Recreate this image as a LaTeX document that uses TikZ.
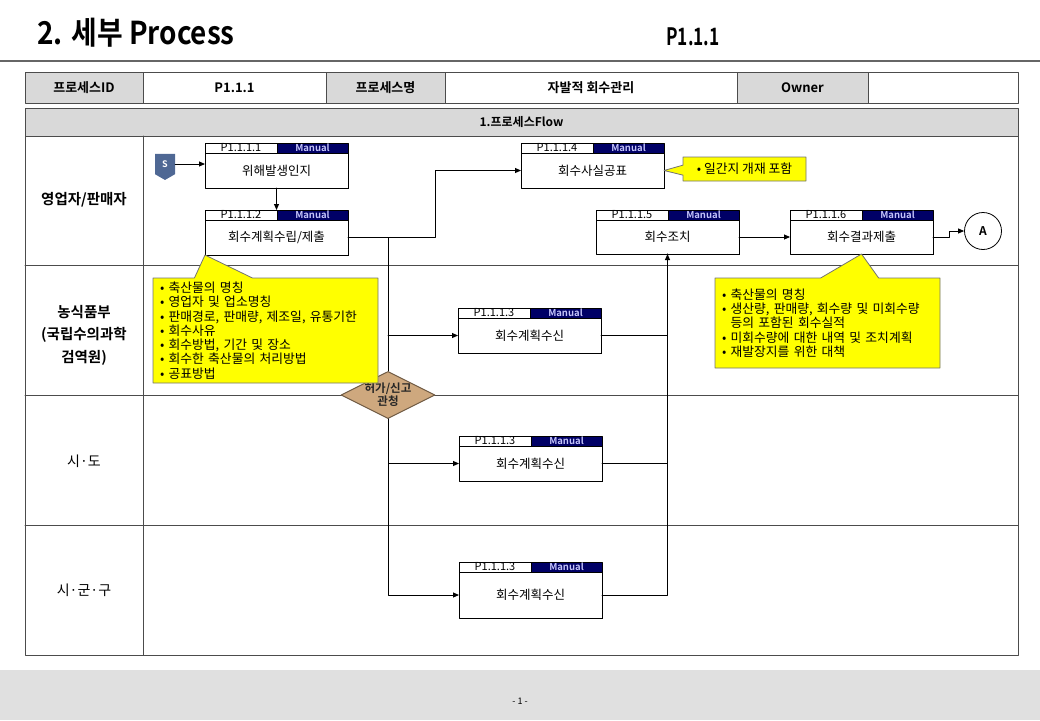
\documentclass[tikz,border=0pt]{standalone}
\usepackage{fontspec}
\setmainfont{Noto Sans CJK KR}[BoldFont={Noto Sans CJK KR Bold}]
\usetikzlibrary{arrows.meta,shapes.geometric,shapes.callouts,shapes.symbols,shadows,calc}
\definecolor{hdrgray}{RGB}{217,217,217}
\definecolor{mannavy}{RGB}{0,0,102}
\definecolor{manlav}{RGB}{196,196,250}
\definecolor{noteyel}{RGB}{255,255,0}
\definecolor{dectan}{RGB}{206,168,126}
\definecolor{startblue}{RGB}{79,104,148}
\definecolor{footgray}{RGB}{224,224,224}

% box with id strip, Manual strip and body: [body height]{name}{left}{top}{id}{text}
\newcommand{\procbox}[6][35]{%
  \node[idstrip,anchor=north west] (#2id) at (#3,#4) {#5};
  \node[manstrip,anchor=north west] (#2m) at (#2id.north east) {Manual};
  \node[procbody,minimum height=#1pt,anchor=north west] (#2) at (#2id.south west) {#6};}

\begin{document}
\begin{tikzpicture}[x=1pt,y=-1pt,line cap=round,line join=round,
  graycell/.style={draw=black!70,fill=hdrgray,line width=1pt,minimum height=31pt,inner sep=0pt,outer sep=0pt,anchor=north west,font=\fontsize{13}{13}\selectfont\bfseries},
  whitecell/.style={graycell,fill=white},
  lanelabel/.style={align=center,font=\fontsize{14}{22}\selectfont},
  idstrip/.style={draw=black,fill=white,line width=0.8pt,minimum width=72pt,minimum height=10pt,inner sep=0pt,outer sep=0pt,font=\fontsize{11}{10}\selectfont},
  manstrip/.style={idstrip,fill=mannavy,minimum width=71pt,text=manlav,font=\fontsize{9.5}{9}\selectfont\bfseries},
  procbody/.style={draw=black,fill=white,line width=0.8pt,minimum width=143pt,inner sep=0pt,outer sep=0pt,font=\fontsize{12.5}{12.5}\selectfont,drop shadow={shadow xshift=0.6pt,shadow yshift=-1.2pt,opacity=1,fill=black}},
  note/.style={rectangle callout,draw=black!55,fill=noteyel,line width=0.8pt,inner sep=0pt,font=\fontsize{12.8}{14.3}\selectfont},
  decision/.style={diamond,aspect=2,draw=black!45!dectan,fill=dectan,line width=1pt,minimum width=94pt,minimum height=46pt,inner sep=0pt,align=center,font=\fontsize{11.5}{13}\selectfont\bfseries,text=black!85},
  startmark/.style={signal,signal to=south,signal pointer angle=120,fill=startblue,text=white,minimum width=20pt,minimum height=22pt,inner sep=0pt,font=\fontsize{9}{9}\selectfont\bfseries},
  conn/.style={circle,draw=black,line width=0.8pt,minimum size=37pt,inner sep=0pt,font=\fontsize{12}{12}\selectfont\bfseries},
  arr/.style={-{Triangle[length=6pt,width=5pt]},line width=0.9pt},
  flowline/.style={line width=0.9pt}]
\useasboundingbox (0,0) rectangle (1040,720);
% title
\node[anchor=west,font=\fontsize{30}{30}\selectfont\bfseries] (title) at (34,33) {\scalebox{0.93}[1.05]{2. 세부 Process}};
\node[font=\fontsize{24}{24}\selectfont\bfseries] (pageid) at (693,37) {\scalebox{0.72}[1]{P1.1.1}};
\draw[black!60,line width=1.2pt] (0,61) -- (1040,61);
% header row
\node[graycell,minimum width=118pt] (pid) at (25,72) {프로세스ID};
\node[whitecell,minimum width=183pt] (pidv) at (pid.north east) {P1.1.1};
\node[graycell,minimum width=119pt] (pname) at (pidv.north east) {프로세스명};
\node[whitecell,minimum width=292pt] (pnamev) at (pname.north east) {자발적 회수관리};
\node[graycell,minimum width=131pt] (owner) at (pnamev.north east) {Owner};
\node[whitecell,minimum width=150pt] (ownerv) at (owner.north east) {};
% flow frame and lanes
\node[graycell,minimum width=993pt,minimum height=28pt,font=\fontsize{12}{12}\selectfont\bfseries] (flowhd) at (25,108) {1.프로세스Flow};
\draw[black!70,line width=1pt] (25,136) rectangle (1018,655);
\draw[black!70,line width=1pt] (143,136) -- (143,655);
\foreach \y in {265,395,525}
  \draw[black!70,line width=1pt] (25,\y) -- (1018,\y);
\node[lanelabel,font=\fontsize{14.5}{22.5}\selectfont\bfseries] (lane1) at (84,200) {영업자/판매자};
\node[lanelabel,font=\fontsize{14.5}{22.5}\selectfont\bfseries] (lane2) at (84,335) {농식품부\\(국립수의과학\\검역원)};
\node[lanelabel] (lane3) at (84,461) {시·도};
\node[lanelabel] (lane4) at (84,590) {시·군·구};
% process boxes
\procbox{b1}{205}{143}{P1.1.1.1}{위해발생인지}
\procbox{b2}{205}{210}{P1.1.1.2}{회수계획수립/제출}
\procbox{b4}{521}{143}{P1.1.1.4}{회수사실공표}
\procbox[34]{b5}{596}{210}{P1.1.1.5}{회수조치}
\procbox[34]{b6}{790}{210}{P1.1.1.6}{회수결과제출}
\procbox{b3a}{458}{308}{P1.1.1.3}{회수계획수신}
\procbox{b3b}{459}{436}{P1.1.1.3}{회수계획수신}
\procbox[46]{b3c}{459}{562}{P1.1.1.3}{회수계획수신}
\node[startmark] (S) at (165,164) {S};
\node[conn] (A) at (983,231) {A};
\node[decision] (dia) at (388,395) {허가/신고\\관청};
% connectors
\coordinate (trunk) at (388,0);
\coordinate (bend) at (435,0);
\draw[arr] (S.east) -- (S.east -| b1.west);
\draw[arr] (b1.south) -- (b1.south |- b2id.north);
\draw[arr] (b2.east) -- (b2.east -| bend) |- (b4.west);
\draw[flowline] (b2.east -| trunk) -- (dia.north);
\draw[arr] (b3a.west -| trunk) -- (b3a.west);
\draw[arr] (dia.south) |- (b3b.west);
\draw[arr] (dia.south) |- (b3c.west);
\draw[flowline] (b3a.east) -| (b5.south);
\draw[flowline] (b3b.east) -| (b5.south);
\draw[arr] (b3c.east) -| (b5.south);
\draw[arr] (b5.east) -- (b6.west);
\draw[arr] (b6.east) -- ++(16,0) |- (A.west);
% notes
\node[note,minimum width=123pt,minimum height=24pt,callout pointer width=10pt,callout absolute pointer={(b4.east)}] (note1) at (744.5,169) {• 일간지 개재 포함};
\node[note,text width=211pt,inner xsep=7pt,minimum height=105pt,align=left,callout pointer width=58pt,callout absolute pointer={(b2.south west)}] (note2) at (265.5,330.5) {• 축산물의 명칭\\• 영업자 및 업소명칭\\• 판매경로, 판매량, 제조일, 유통기한\\• 회수사유\\• 회수방법, 기간 및 장소\\• 회수한 축산물의 처리방법\\• 공표방법};
\node[note,text width=211pt,inner xsep=7pt,minimum height=90pt,align=left,callout pointer width=58pt,callout absolute pointer={(b6.south)}] (note3) at (827.5,323) {• 축산물의 명칭\\• 생산량, 판매량, 회수량 및 미회수량\\\phantom{• }등의 포함된 회수실적\\• 미회수량에 대한 내역 및 조치계획\\• 재발장지를 위한 대책};
% footer
\fill[footgray] (0,670) rectangle (1040,720);
\node[font=\fontsize{9}{9}\selectfont] (pageno) at (520,701) {- 1 -};
\end{tikzpicture}
\end{document}
